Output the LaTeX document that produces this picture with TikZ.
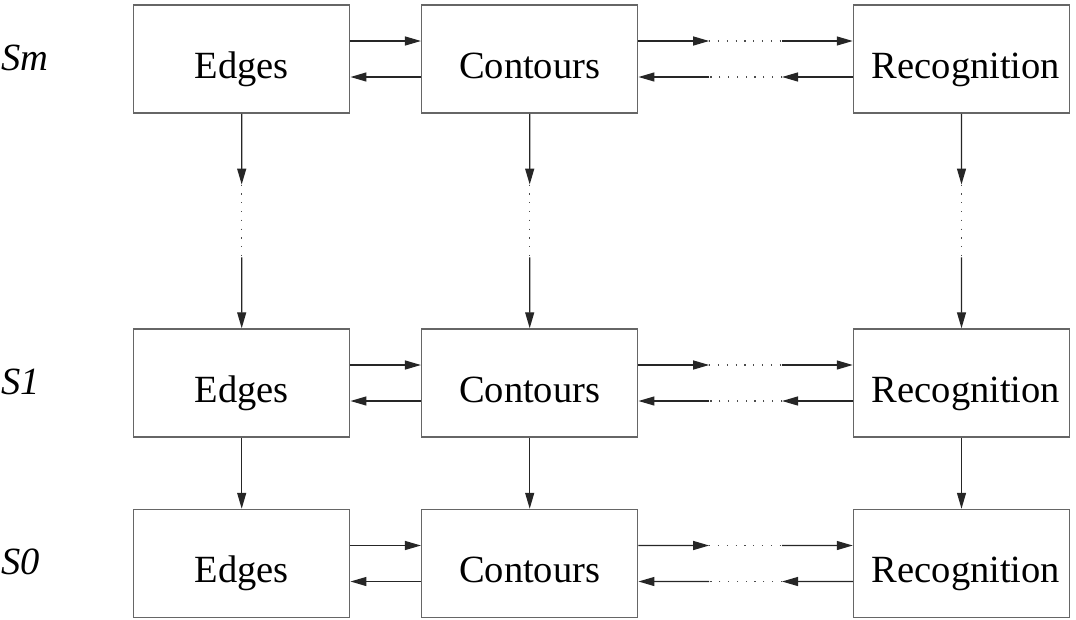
\documentclass[tikz,border=0pt]{standalone}
\usepackage{fontspec}
\setmainfont{Liberation Serif}
\usetikzlibrary{calc,arrows.meta}

\begin{document}
\begin{tikzpicture}[x=1pt, y=-1pt, font=\fontsize{38.5}{44}\selectfont]
\tikzset{
  stage/.style={draw=black!60, line width=1.5pt, minimum width=216pt, minimum height=108pt, text height=38pt, text depth=0pt, inner sep=0pt},
  link/.style={-{Triangle[length=16pt,width=9pt]}, line width=1.3pt, draw=black!85, fill=black},
  gap/.style={line width=1.3pt, draw=black!70, dash pattern=on 1.2pt off 7.6pt},
  scalename/.style={anchor=base west, inner sep=0pt, font=\fontsize{38.5}{44}\selectfont\itshape},
}
\useasboundingbox (0,0) rectangle (1076,619);

% one row of stages per scale
\foreach \r/\y in {m/59, 1/383, 0/563.5} {
  \node[scalename] (s\r) at (1,{\y+11}) {S\r};
  \node[stage] (e\r) at (241.7,\y) {Edges};
  \node[stage] (c\r) at (529.7,\y) {Contours};
  \node[stage] (r\r) at (961.5,\y) {\hspace*{9pt}Recognition};
  \coordinate (a\r) at ($(c\r.east)!0.33!(r\r.west)$);
  \coordinate (b\r) at ($(c\r.east)!0.67!(r\r.west)$);
  \draw[link] ([yshift=18pt]e\r.east) -- ([yshift=18pt]c\r.west);
  \draw[link] ([yshift=-18pt]c\r.west) -- ([yshift=-18pt]e\r.east);
  \draw[link] ([yshift=18pt]c\r.east) -- ([yshift=18pt]a\r);
  \draw[gap] ([yshift=18pt]a\r) -- ([yshift=18pt]b\r);
  \draw[link] ([yshift=18pt]b\r) -- ([yshift=18pt]r\r.west);
  \draw[link] ([yshift=-18pt]r\r.west) -- ([yshift=-18pt]b\r);
  \draw[gap] ([yshift=-18pt]b\r) -- ([yshift=-18pt]a\r);
  \draw[link] ([yshift=-18pt]a\r) -- ([yshift=-18pt]c\r.east);
}

% links down the scales
\foreach \k in {e,c,r} {
  \coordinate (p\k) at ($(\k m.south)!0.33!(\k 1.north)$);
  \coordinate (q\k) at ($(\k m.south)!0.67!(\k 1.north)$);
  \draw[link] (\k m.south) -- (p\k);
  \draw[gap] (p\k) -- (q\k);
  \draw[link] (q\k) -- (\k 1.north);
  \draw[link] (\k 1.south) -- (\k 0.north);
}
\end{tikzpicture}
\end{document}
